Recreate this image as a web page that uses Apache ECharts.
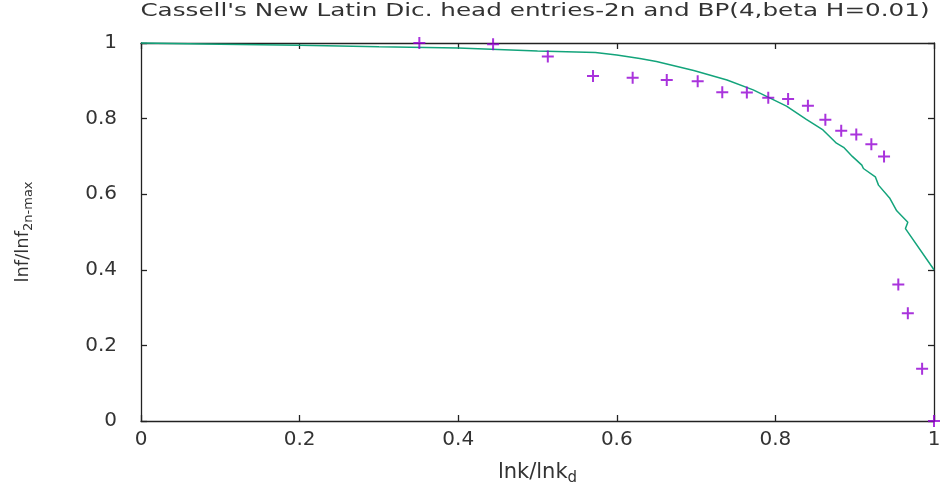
<!DOCTYPE html>
<html>
<head>
<meta charset="utf-8">
<script src="https://cdn.jsdelivr.net/npm/echarts@6/dist/echarts.min.js"></script>
<style>
html,body{margin:0;padding:0;background:#fff;}
#c{width:943px;height:490px;}
</style>
</head>
<body>
<div id="c"></div>
<script>
var titleText = "Cassell's New Latin Dic. head entries-2n and BP(4,beta H=0.01)";
var xTicks = [0, 0.2, 0.4, 0.6, 0.8, 1];
var yTicks = [0, 0.2, 0.4, 0.6, 0.8, 1];

// data points (purple "+")
var pointsX = [0.351, 0.444, 0.513, 0.570, 0.620, 0.663, 0.702, 0.733, 0.764, 0.791, 0.816, 0.841, 0.863, 0.883, 0.902, 0.921, 0.937, 0.955, 0.967, 0.985, 1.0];
var pointsY = [1.0, 0.997, 0.964, 0.913, 0.908, 0.902, 0.899, 0.870, 0.869, 0.855, 0.852, 0.834, 0.797, 0.768, 0.758, 0.732, 0.700, 0.361, 0.285, 0.138, 0.0];

// BP model curve (green line)
var curveX = [0, 0.1, 0.2, 0.3, 0.4, 0.5, 0.573, 0.6, 0.629, 0.65, 0.697, 0.739, 0.772, 0.814, 0.839, 0.860, 0.877, 0.886, 0.897, 0.909, 0.911, 0.926, 0.930, 0.944, 0.953, 0.967, 0.964, 1.0];
var curveY = [1.0, 0.997, 0.994, 0.990, 0.987, 0.979, 0.975, 0.968, 0.959, 0.951, 0.927, 0.902, 0.876, 0.833, 0.798, 0.770, 0.735, 0.724, 0.700, 0.677, 0.668, 0.646, 0.624, 0.590, 0.556, 0.526, 0.509, 0.400];

var pts = pointsX.map(function(x, i){ return [x, pointsY[i]]; });
var crv = curveX.map(function(x, i){ return [x, curveY[i]]; });

var FONT = 'DejaVu Sans';
var TXT = '#333';
var axisCommon = {
  type: 'value', min: 0, max: 1, interval: 0.2,
  splitLine: {show: false},
  axisLine: {show: true, onZero: false, lineStyle: {color: '#222', width: 1.3}},
  axisTick: {show: true, inside: true, length: 6, lineStyle: {color: '#222', width: 1.3}}
};

var chart = echarts.init(document.getElementById('c'), null, {renderer: 'canvas'});
chart.setOption({
  animation: false,
  backgroundColor: '#fff',
  graphic: [{
    type: 'text', x: 535, y: 2, scaleX: 1.37, scaleY: 1,
    style: {
      text: titleText, fontFamily: FONT, fontSize: 18, fill: TXT,
      align: 'center', verticalAlign: 'top'
    }
  }],
  grid: {left: 141, right: 9, top: 43, bottom: 69, containLabel: false, outerBoundsMode: 'none'},
  xAxis: [
    Object.assign({}, axisCommon, {
      position: 'bottom',
      name: '{a|lnk/lnk}{b|d}',
      nameLocation: 'middle', nameGap: 38,
      nameTextStyle: {
        fontFamily: FONT, color: TXT,
        rich: {a: {fontFamily: FONT, fontSize: 21, color: TXT}, b: {fontFamily: FONT, fontSize: 15, color: TXT, padding: [12, 0, 0, 0]}}
      },
      axisLabel: {fontFamily: FONT, fontSize: 20, color: TXT, margin: 9,
        formatter: function(v){ return String(v); }}
    }),
    Object.assign({}, axisCommon, {
      position: 'top',
      axisLabel: {show: false}
    })
  ],
  yAxis: [
    Object.assign({}, axisCommon, {
      position: 'left',
      name: '{a|lnf/lnf}{b|2n-max}',
      nameLocation: 'middle', nameGap: 106, nameRotate: 90,
      nameTextStyle: {
        fontFamily: FONT, color: TXT,
        rich: {a: {fontFamily: FONT, fontSize: 18, color: TXT}, b: {fontFamily: FONT, fontSize: 13, color: TXT, padding: [10, 0, 0, 0]}}
      },
      axisLabel: {fontFamily: FONT, fontSize: 20, color: TXT, margin: 24,
        formatter: function(v){ return String(v); }}
    }),
    Object.assign({}, axisCommon, {
      position: 'right',
      axisLabel: {show: false}
    })
  ],
  series: [
    {
      type: 'line', data: crv, showSymbol: false, symbol: 'none',
      lineStyle: {color: '#13a47b', width: 1.5}, clip: false, z: 2
    },
    {
      type: 'scatter', data: pts,
      symbol: 'path://M5 0 L7 0 L7 5 L12 5 L12 7 L7 7 L7 12 L5 12 L5 7 L0 7 L0 5 L5 5 Z',
      symbolSize: 12,
      itemStyle: {color: '#9400d3'}, clip: false, z: 3
    }
  ]
});
</script>
</body>
</html>
